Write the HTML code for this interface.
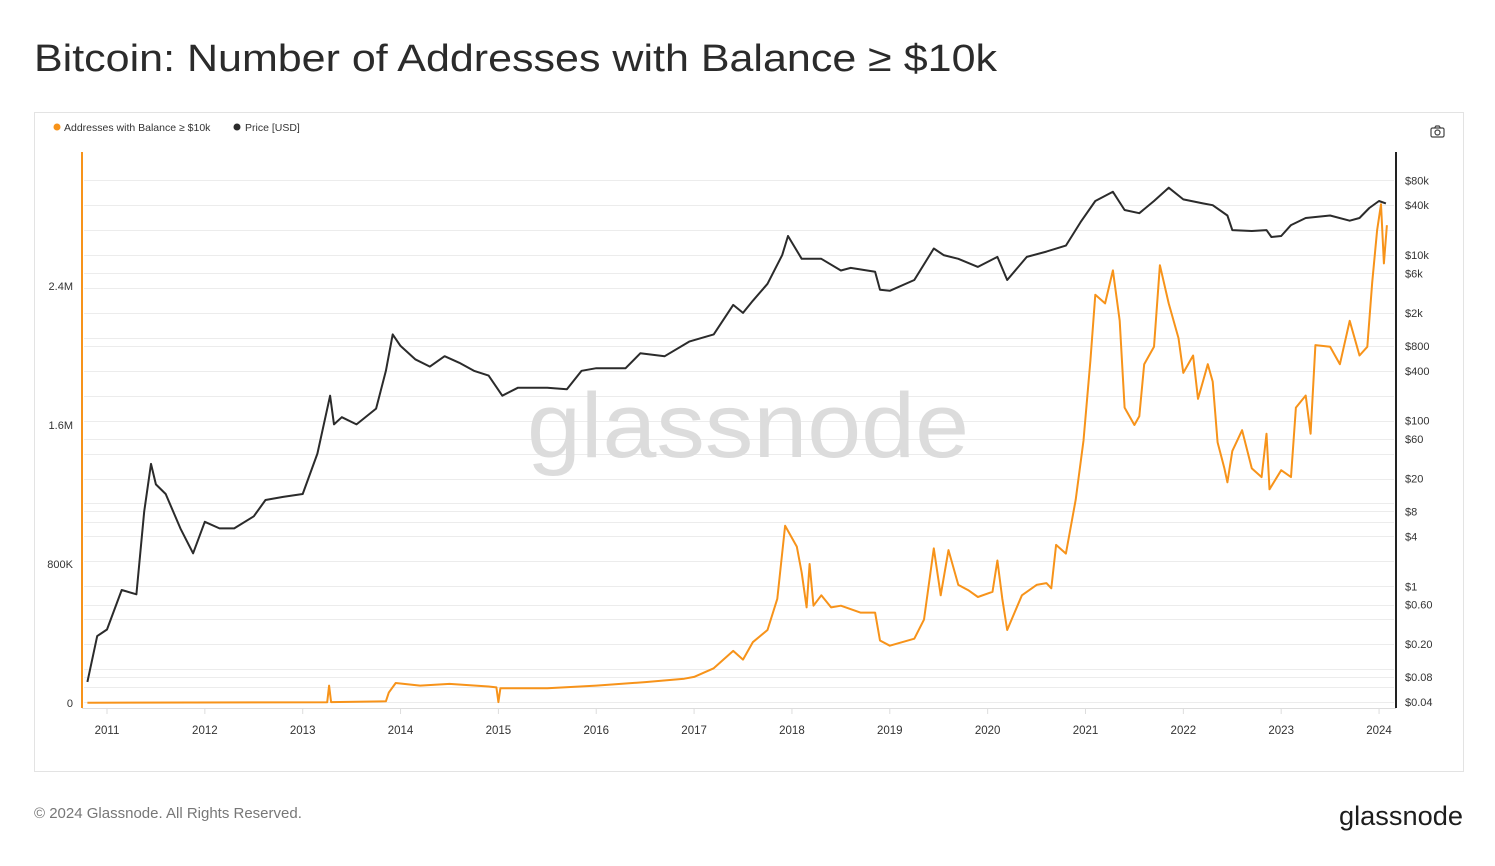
<!DOCTYPE html>
<html><head><meta charset="utf-8">
<style>
html,body{margin:0;padding:0;background:#fff;}
body{width:1495px;height:861px;overflow:hidden;font-family:"Liberation Sans",sans-serif;}
svg text{font-family:"Liberation Sans",sans-serif;}
</style></head>
<body>
<svg id="chart" width="1495" height="861" viewBox="0 0 1495 861" xmlns="http://www.w3.org/2000/svg">
  <rect x="0" y="0" width="1495" height="861" fill="#fff"/>
  <text x="34" y="71" font-size="38" fill="#2b2b2b" textLength="963" lengthAdjust="spacingAndGlyphs">Bitcoin: Number of Addresses with Balance ≥ $10k</text>
  <rect x="34.5" y="112.5" width="1429" height="659" fill="none" stroke="#e3e3e3"/>
  <g>
    <g>
      <circle cx="57" cy="127" r="3.5" fill="#f7931a"/>
      <text x="64" y="131" font-size="10.5" fill="#333">Addresses with Balance ≥ $10k</text>
    </g>
    <g>
      <circle cx="237" cy="127" r="3.5" fill="#2b2b2b"/>
      <text x="245" y="131" font-size="10.5" fill="#333">Price [USD]</text>
    </g>
  </g>
  <g fill="none" stroke="#444" stroke-width="1.2">
    <rect x="1431" y="128" width="13" height="9" rx="1.5"/>
    <path d="M1434.5 128 l1.5 -2 h3 l1.5 2"/>
    <circle cx="1437.5" cy="132.5" r="2.5"/>
  </g>
  <g id="grid"></g>
  <text x="748" y="457" font-size="92" fill="#dcdcdc" text-anchor="middle" textLength="442" lengthAdjust="spacingAndGlyphs">glassnode</text>
  <g id="series"></g>
  <line x1="82" y1="152" x2="82" y2="708" stroke="#f7931a" stroke-width="2"/>
  <line x1="1396" y1="152" x2="1396" y2="708" stroke="#222" stroke-width="2"/>
  <line x1="82" y1="708.5" x2="1396" y2="708.5" stroke="#ddd" stroke-width="1"/>
  <g id="axes"></g>
  <text x="34" y="818" font-size="15" fill="#777">© 2024 Glassnode. All Rights Reserved.</text>
  <text x="1463" y="825" font-size="27" fill="#1d1d1d" text-anchor="end" textLength="124" lengthAdjust="spacingAndGlyphs">glassnode</text>
</svg>
<script>
const yearTicks = [2011,2012,2013,2014,2015,2016,2017,2018,2019,2020,2021,2022,2023,2024];
const leftTickValues = [0,800000,1600000,2400000];
const leftTickLabels = ["0","800K","1.6M","2.4M"];
const priceTickValues = [0.04,0.08,0.2,0.6,1,4,8,20,60,100,400,800,2000,6000,10000,40000,80000];
const priceTickLabels = ["$0.04","$0.08","$0.20","$0.60","$1","$4","$8","$20","$60","$100","$400","$800","$2k","$6k","$10k","$40k","$80k"];
const priceGridExtra = [0.06,0.1,0.4,2,6,10,40,200,1000,4000,20000];

const priceDates = [2010.8,2010.9,2011.0,2011.15,2011.3,2011.38,2011.45,2011.5,2011.6,2011.75,2011.88,2012.0,2012.15,2012.3,2012.5,2012.62,2012.8,2013.0,2013.15,2013.28,2013.32,2013.4,2013.55,2013.75,2013.85,2013.92,2014.0,2014.15,2014.3,2014.45,2014.6,2014.75,2014.9,2015.04,2015.2,2015.5,2015.7,2015.85,2016.0,2016.3,2016.45,2016.7,2016.95,2017.2,2017.4,2017.5,2017.6,2017.75,2017.9,2017.96,2018.1,2018.3,2018.5,2018.6,2018.85,2018.9,2019.0,2019.25,2019.45,2019.55,2019.7,2019.9,2020.1,2020.2,2020.4,2020.6,2020.8,2020.95,2021.1,2021.28,2021.4,2021.55,2021.7,2021.85,2022.0,2022.2,2022.3,2022.45,2022.5,2022.7,2022.85,2022.9,2023.0,2023.1,2023.25,2023.5,2023.7,2023.8,2023.9,2024.0,2024.07];
const priceValues = [0.07,0.25,0.3,0.9,0.8,8,30,17,13,5,2.5,6,5,5,7,11,12,13,40,200,90,110,90,140,400,1100,800,550,450,600,500,400,350,200,250,250,240,400,430,430,650,600,900,1100,2500,2000,2800,4500,10000,17000,9000,9000,6500,7000,6300,3800,3700,5000,12000,10000,9000,7200,9500,5000,9500,11000,13000,25000,45000,58000,35000,32000,45000,65000,47000,42000,40000,30000,20000,19500,20000,16500,17000,23000,28000,30000,26000,28000,37000,45000,42000];

const addrDates = [2010.8,2013.25,2013.27,2013.29,2013.85,2013.88,2013.95,2014.2,2014.5,2014.9,2014.98,2015.0,2015.02,2015.5,2016.0,2016.5,2016.9,2017.0,2017.2,2017.4,2017.5,2017.6,2017.75,2017.85,2017.93,2018.0,2018.05,2018.1,2018.15,2018.18,2018.22,2018.3,2018.4,2018.5,2018.7,2018.85,2018.9,2019.0,2019.25,2019.35,2019.45,2019.52,2019.6,2019.7,2019.8,2019.9,2020.05,2020.1,2020.15,2020.2,2020.35,2020.5,2020.6,2020.65,2020.7,2020.8,2020.9,2020.98,2021.05,2021.1,2021.2,2021.28,2021.35,2021.4,2021.5,2021.55,2021.6,2021.7,2021.76,2021.85,2021.95,2022.0,2022.1,2022.15,2022.2,2022.25,2022.3,2022.35,2022.42,2022.45,2022.5,2022.6,2022.7,2022.8,2022.85,2022.88,2023.0,2023.1,2023.15,2023.25,2023.3,2023.35,2023.5,2023.6,2023.7,2023.8,2023.88,2023.93,2023.98,2024.02,2024.05,2024.08];
const addrValues = [2000,4000,100000,5000,10000,60000,115000,100000,110000,95000,90000,5000,85000,85000,100000,120000,140000,150000,200000,300000,250000,350000,420000,600000,1020000,950000,900000,750000,550000,800000,560000,620000,550000,560000,520000,520000,360000,330000,370000,480000,890000,620000,880000,680000,650000,610000,640000,820000,600000,420000,620000,680000,690000,660000,910000,860000,1170000,1510000,1970000,2350000,2300000,2490000,2200000,1700000,1600000,1650000,1950000,2050000,2520000,2300000,2100000,1900000,2000000,1750000,1850000,1950000,1850000,1500000,1350000,1270000,1450000,1570000,1350000,1300000,1550000,1230000,1340000,1300000,1700000,1770000,1550000,2060000,2050000,1950000,2200000,2000000,2050000,2420000,2720000,2870000,2530000,2750000];

const NS = "http://www.w3.org/2000/svg";
const xOf = t => 107 + (t - 2011) * 97.85;
const yLeft = v => 703 - v / 800000 * 139;
const yPrice = p => 702 - (Math.log10(p) - Math.log10(0.04)) * 82.8;

const grid = document.getElementById('grid');
const axes = document.getElementById('axes');
const series = document.getElementById('series');

function mk(tag, attrs, parent){
  const e = document.createElementNS(NS, tag);
  for (const k in attrs) e.setAttribute(k, attrs[k]);
  parent.appendChild(e);
  return e;
}

priceTickValues.concat(priceGridExtra).forEach(p => {
  const y = Math.round(yPrice(p)) + 0.5;
  const l = mk('line', {x1: 84, x2: 1394, y1: y, y2: y, stroke: '#ececec', 'stroke-width': 1}, grid);
  
  
});

yearTicks.forEach(yr => {
  const x = xOf(yr);
  const tk = mk('line', {x1: x, x2: x, y1: 708, y2: 714, stroke: '#ddd'}, axes);
  
  
  const t = mk('text', {x: x, y: 734, 'font-size': 11.5, fill: '#333', 'text-anchor': 'middle'}, axes);
  t.textContent = yr;
  
  
});

leftTickValues.forEach((v, i) => {
  const t = mk('text', {x: 73, y: yLeft(v) + 4, 'font-size': 11, fill: '#333', 'text-anchor': 'end'}, axes);
  t.textContent = leftTickLabels[i];
  
  
});

priceTickValues.forEach((p, i) => {
  const t = mk('text', {x: 1405, y: yPrice(p) + 4, 'font-size': 11, fill: '#333'}, axes);
  t.textContent = priceTickLabels[i];
  
  
});

const pricePts = priceDates.map((d, i) => xOf(d).toFixed(1) + ',' + yPrice(priceValues[i]).toFixed(1)).join(' ');
const priceLine = mk('polyline', {points: pricePts, fill: 'none', stroke: '#2b2b2b', 'stroke-width': 2, 'stroke-linejoin': 'round'}, series);



const addrPts = addrDates.map((d, i) => xOf(d).toFixed(1) + ',' + yLeft(addrValues[i]).toFixed(1)).join(' ');
const addrLine = mk('polyline', {points: addrPts, fill: 'none', stroke: '#f7931a', 'stroke-width': 2, 'stroke-linejoin': 'round'}, series);


</script>
</body></html>
